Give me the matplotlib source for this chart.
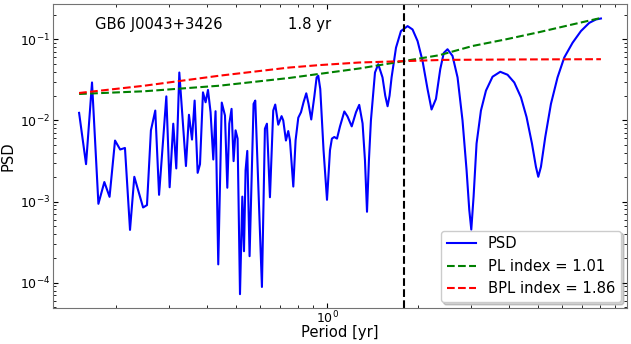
import matplotlib
matplotlib.use("Agg")
import matplotlib.pyplot as plt

# periodogram (period in yr, PSD)
period = [0.1507, 0.1589, 0.1663, 0.1746, 0.1827, 0.1901, 0.1982, 0.2061, 0.2138, 0.2222,
          0.2296, 0.2455, 0.2529, 0.2606, 0.2694, 0.2773, 0.2931, 0.3006, 0.3090, 0.3162,
          0.3236, 0.3404, 0.3483, 0.3565, 0.3637, 0.3722, 0.3789, 0.3876, 0.3954, 0.4027,
          0.4107, 0.4193, 0.4266, 0.4355, 0.4473, 0.4584, 0.4666, 0.4737, 0.4820, 0.4895,
          0.4970, 0.5047, 0.5140, 0.5232, 0.5299, 0.5364, 0.5434, 0.5530, 0.5701, 0.5775,
          0.6076, 0.6216, 0.6312, 0.6459, 0.6623, 0.6725, 0.6882, 0.7058, 0.7149, 0.7297,
          0.7427, 0.7524, 0.7718, 0.7854, 0.8017, 0.8185, 0.8345, 0.8520, 0.8670, 0.8850,
          0.9060, 0.9220, 0.9337, 0.9480, 0.9720, 0.9980, 1.021, 1.036, 1.055, 1.077,
          1.102, 1.139, 1.167, 1.205, 1.245, 1.276, 1.309, 1.333, 1.354, 1.374,
          1.395, 1.439, 1.475, 1.524, 1.556, 1.584, 1.608, 1.633, 1.689, 1.754,
          1.845, 1.916, 1.991, 2.068, 2.148, 2.215, 2.291, 2.367, 2.431, 2.502,
          2.599, 2.701, 2.805, 2.893, 2.953, 2.999, 3.052, 3.122, 3.228, 3.354,
          3.527, 3.740, 3.954, 4.162, 4.380, 4.571, 4.763, 4.910, 4.998, 5.101,
          5.272, 5.505, 5.789, 6.092, 6.493, 6.921, 7.372, 7.760, 8.060]
psd = [0.0124, 0.00289, 0.0294, 0.000938, 0.00174, 0.001143, 0.00565, 0.00438, 0.00458, 0.000447,
       0.00202, 0.000845, 0.000904, 0.00755, 0.01324, 0.00121, 0.0198, 0.0015, 0.00912, 0.00256,
       0.0390, 0.00274, 0.01175, 0.00581, 0.01758, 0.00226, 0.00289, 0.0222, 0.01675, 0.02377,
       0.01264, 0.0033, 0.0130, 0.000168, 0.0166, 0.0115, 0.00148, 0.00912, 0.0139, 0.00315,
       0.00755, 0.00597, 7.21e-5, 0.00115, 0.000244, 0.00244, 0.00421, 0.000212, 0.0160, 0.01758,
       8.85e-5, 0.00791, 0.00912, 0.00113, 0.01324, 0.0157, 0.00886, 0.0113, 0.0100, 0.00565,
       0.0074, 0.00569, 0.00153, 0.00569, 0.0108, 0.01264, 0.01675, 0.0216, 0.0160, 0.01028,
       0.01967, 0.0339, 0.0356, 0.0244, 0.0043, 0.00105, 0.0043, 0.00597, 0.00625, 0.00597,
       0.00845, 0.0129, 0.0112, 0.00845, 0.01264, 0.01556, 0.00919, 0.00324, 0.000748, 0.00324,
       0.0100, 0.0390, 0.0494, 0.0339, 0.0202, 0.01496, 0.0202, 0.0339, 0.0789, 0.1265,
       0.1456, 0.1324, 0.0953, 0.0542, 0.0244, 0.01365, 0.01845, 0.0429, 0.0679, 0.0755,
       0.0625, 0.0339, 0.0100, 0.00244, 0.000791, 0.000451, 0.00115, 0.00519, 0.01324, 0.0233,
       0.0346, 0.0398, 0.0366, 0.0294, 0.0193, 0.0110, 0.00519, 0.00268, 0.00202, 0.00268,
       0.00625, 0.0160, 0.0339, 0.0596, 0.0908, 0.1265, 0.1596, 0.1758, 0.1807]

# model curves
pl_period = [0.1507, 0.2477, 0.4388, 0.7484, 1.276, 2.349, 3.028, 3.906, 5.035, 6.493, 8.060]
pl_psd = [0.0212, 0.0229, 0.0268, 0.0334, 0.0437, 0.0637, 0.0828, 0.100, 0.1227, 0.1528, 0.1836]
bpl_period = [0.1507, 0.2477, 0.4388, 0.7484, 0.940, 1.276, 2.440, 4.322, 8.060]
bpl_psd = [0.0218, 0.0268, 0.0356, 0.0449, 0.0481, 0.0518, 0.0558, 0.0565, 0.0569]

source = "GB6 J0043+3426"
best_period = 1.8
pl_index = 1.01
bpl_index = 1.86

fs = 10.6
fig, ax = plt.subplots(figsize=(6.31, 3.44), dpi=100)
fig.subplots_adjust(left=0.084, right=0.9937, bottom=0.1047, top=0.988)

ax.plot(period, psd, color="blue", lw=1.5, label="PSD")
ax.plot(pl_period, pl_psd, "--", color="green", lw=1.5, label="PL index = %.2f" % pl_index)
ax.plot(bpl_period, bpl_psd, "--", color="red", lw=1.5, label="BPL index = %.2f" % bpl_index)
ax.axvline(best_period, color="black", ls="--", lw=1.5)

ax.set_xscale("log")
ax.set_yscale("log")
ax.set_xlabel("Period [yr]", fontsize=fs)
ax.set_ylabel("PSD", fontsize=fs)
ax.xaxis.set_label_coords(0.5, -0.057)
ax.yaxis.set_label_coords(-0.066, 0.5)
ax.tick_params(which="both", direction="in", top=True, right=True, labelsize=9, pad=2)
ax.tick_params(axis="x", which="both", pad=1)
for s in ax.spines.values():
    s.set_color("0.45")

ax.text(0.073, 0.934, source, transform=ax.transAxes, fontsize=fs, va="center")
ax.text(0.41, 0.934, "%.1f yr" % best_period, transform=ax.transAxes, fontsize=fs, va="center")
ax.legend(loc="lower right", fontsize=fs, shadow={"alpha": 0.25}, borderaxespad=0.4)

fig.savefig("out.png", dpi=100)
